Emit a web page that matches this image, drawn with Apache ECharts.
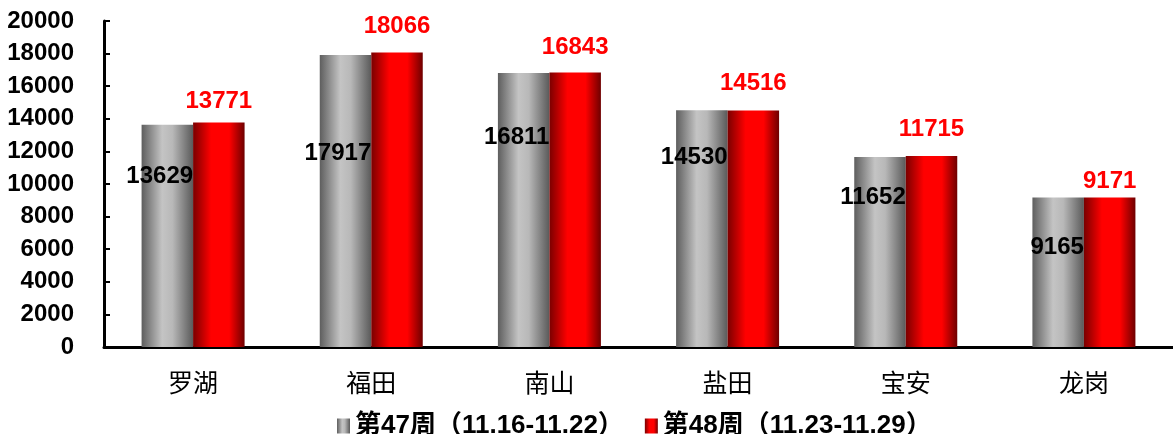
<!DOCTYPE html>
<html>
<head>
<meta charset="utf-8">
<script src="https://cdn.jsdelivr.net/npm/echarts@6/dist/echarts.min.js"></script>
<style>html,body{margin:0;padding:0;background:#fff}#c{width:1173px;height:434px}</style>
</head>
<body>
<div id="c"></div>
<script>
const categories = ['罗湖', '福田', '南山', '盐田', '宝安', '龙岗'];
const week47 = [13629, 17917, 16811, 14530, 11652, 9165];
const week48 = [13771, 18066, 16843, 14516, 11715, 9171];
const seriesNames = ['第47周（11.16-11.22）', '第48周（11.23-11.29）'];
const yTicks = { min: 0, max: 20000, interval: 2000 };

// label placement (layout, px)
const grayLabelDrop = [52, 98, 64, 47, 40, 50];
const redLabelRise = [21, 26, 25, 27, 27, 16];

const FONT = '"Liberation Sans", Arial, "Noto Sans CJK SC", sans-serif';
const grayGrad = new echarts.graphic.LinearGradient(0, 0, 1, 0, [
  { offset: 0, color: '#5e5e5e' },
  { offset: 0.4, color: '#c4c4c4' },
  { offset: 0.6, color: '#b8b8b8' },
  { offset: 1, color: '#5a5a5a' }
]);
const redGrad = new echarts.graphic.LinearGradient(0, 0, 1, 0, [
  { offset: 0, color: '#7a0000' },
  { offset: 0.35, color: '#ff0000' },
  { offset: 0.7, color: '#ff0000' },
  { offset: 1, color: '#6e0000' }
]);

const chart = echarts.init(document.getElementById('c'));
chart.setOption({
  animation: false,
  backgroundColor: '#fff',
  grid: { left: 104, right: -3, top: 21, bottom: 87, containLabel: false },
  legend: {
    left: 332, top: 408,
    icon: 'rect',
    itemWidth: 13, itemHeight: 15, itemGap: 21,
    textStyle: { fontFamily: FONT, fontSize: 26, fontWeight: 'bold', color: '#000' },
    data: seriesNames
  },
  xAxis: {
    type: 'category',
    data: categories,
    axisLine: { lineStyle: { color: '#000', width: 3 } },
    axisTick: { inside: true, length: 7, lineStyle: { color: '#000', width: 3 } },
    axisLabel: { fontFamily: '"Noto Sans CJK SC", sans-serif', fontSize: 25, color: '#000', margin: 23 }
  },
  yAxis: {
    type: 'value',
    min: yTicks.min, max: yTicks.max, interval: yTicks.interval,
    splitLine: { show: false },
    axisLine: { show: true, lineStyle: { color: '#000', width: 3 } },
    axisTick: { show: true, inside: true, length: 6, lineStyle: { color: '#000', width: 2 } },
    axisLabel: { fontFamily: FONT, fontSize: 24, fontWeight: 'bold', color: '#000', margin: 30,
      formatter: v => String(v) }
  },
  series: [
    {
      name: seriesNames[0], type: 'bar', barWidth: 51.5, barGap: '0%',
      itemStyle: { color: grayGrad },
      data: week47.map((v, i) => ({
        value: v,
        label: {
          show: true, position: 'insideTopRight', distance: 0,
          offset: [0, grayLabelDrop[i] - 12],
          fontFamily: FONT, fontSize: 24, fontWeight: 'bold', color: '#000'
        }
      }))
    },
    {
      name: seriesNames[1], type: 'bar', barWidth: 51.5, barGap: '0%',
      itemStyle: { color: redGrad },
      data: week48.map((v, i) => ({
        value: v,
        label: {
          show: true, position: 'top', distance: redLabelRise[i] - 12,
          fontFamily: FONT, fontSize: 24, fontWeight: 'bold', color: '#ff0000'
        }
      }))
    }
  ]
});
</script>
</body>
</html>
